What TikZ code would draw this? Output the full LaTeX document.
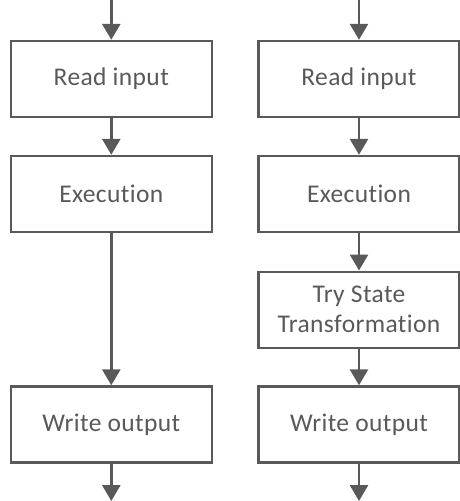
\documentclass[tikz,border=0pt]{standalone}
\usepackage{fontspec}
\setmainfont[LetterSpace=1.5,Ligatures={NoCommon}]{Carlito}
\usetikzlibrary{arrows.meta}
\definecolor{ln}{HTML}{595959}
\definecolor{tx}{HTML}{595959}
\begin{document}
\begin{tikzpicture}[x=1pt,y=-1pt,
  box/.style={draw=ln,line width=2.4pt,minimum width=201pt,minimum height=76pt,inner sep=0pt,
    text=tx,font=\fontsize{25.5}{30}\selectfont,align=center},
  arr/.style={draw=ln,line width=2.8pt,-{Triangle[width=18pt,length=16pt]}}]
\useasboundingbox (0,0) rectangle (460,501);
% left column
\node[box] (r1) at (111.3,79) {Read input};
\node[box] (e1) at (111.3,194) {Execution};
\node[box] (w1) at (111.3,424.5) {Write output};
\coordinate (t1) at (111.3,0);
\coordinate (b1) at (111.3,501);
\draw[arr] (t1) -- (r1.north);
\draw[arr] (r1.south) -- (e1.north);
\draw[arr] (e1.south) -- (w1.north);
\draw[arr] (w1.south) -- (b1);
% right column
\node[box] (r2) at (359,79) {Read input};
\node[box] (e2) at (359,194) {Execution};
\node[box] (s2) at (359,309.7) {Try State\\Transformation};
\node[box] (w2) at (359,424.5) {Write output};
\coordinate (t2) at (359,0);
\coordinate (b2) at (359,501);
\draw[arr] (t2) -- (r2.north);
\draw[arr] (r2.south) -- (e2.north);
\draw[arr] (e2.south) -- (s2.north);
\draw[arr] (s2.south) -- (w2.north);
\draw[arr] (w2.south) -- (b2);
\end{tikzpicture}
\end{document}
